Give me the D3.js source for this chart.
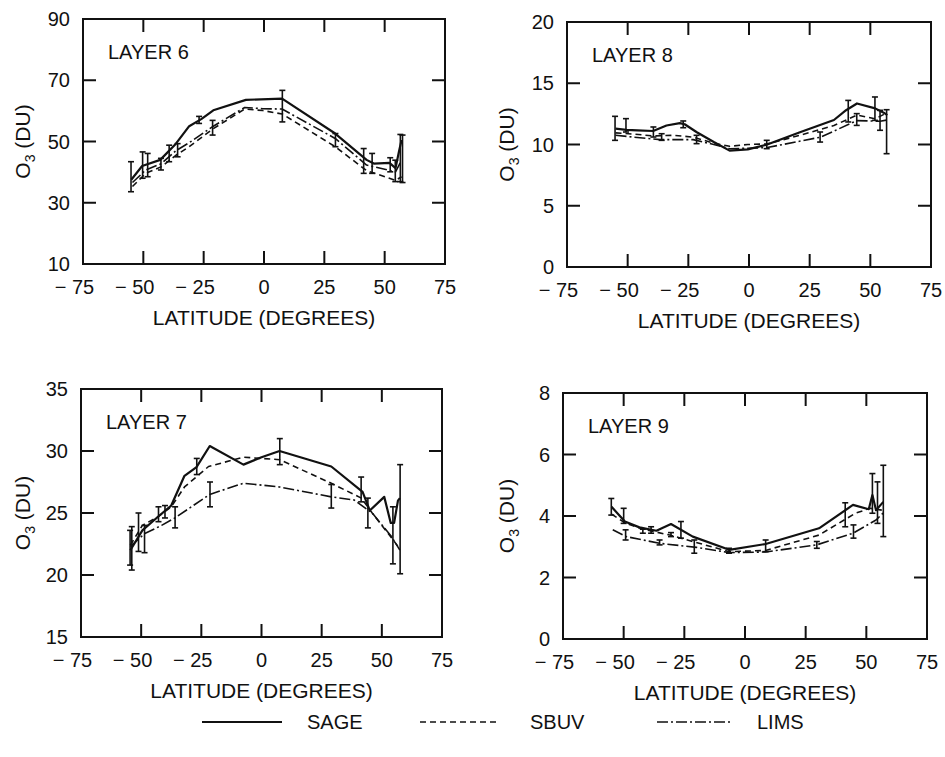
<!DOCTYPE html>
<html><head><meta charset="utf-8">
<script src="https://cdn.jsdelivr.net/npm/d3@7"></script>
<style>body{margin:0;background:#fff}svg{display:block}</style>
</head><body>
<svg id="c" width="945" height="757"></svg>
<script>
// ---------- data ----------
const latTicks = [-75, -50, -25, 0, 25, 50, 75];
const latTickLabels = ["\u2212 75", "\u2212 50", "\u2212 25", "0", "25", "50", "75"];
const seriesNames = ["SAGE", "SBUV", "LIMS"];
const layerNames = ["LAYER 6", "LAYER 8", "LAYER 7", "LAYER 9"];
const yTicks6 = [10, 30, 50, 70, 90];
const yTicks8 = [0, 5, 10, 15, 20];
const yTicks7 = [15, 20, 25, 30, 35];
const yTicks9 = [0, 2, 4, 6, 8];

// Layer 6  [latitude, O3 DU]
const sage6 = [[-55,37.5],[-50.5,42],[-43,44],[-36.5,49.3],[-31,55],[-26,57.3],[-21,60.2],[-7.5,63.6],[7.5,64],[29.5,52.6],[42.5,44],[45.5,42.8],[52,43],[54.5,41.3],[56,47],[57,50.5]];
const sbuv6 = [[-54.5,35.3],[-49,39.6],[-42.5,41.8],[-36.5,45.5],[-31,48.3],[-21,54.2],[-8,60.6],[-0.5,60.1],[7.5,59],[29.5,48.3],[42.5,40.5],[54.5,37.3],[57,38.5]];
const lims6 = [[-54.5,36.6],[-49,40.7],[-42.5,42.8],[-36.5,47],[-31,49.6],[-21,55],[-8,61.1],[-0.5,60.7],[7.5,60.6],[29.5,51],[42.5,42.3],[54.5,40.1],[57,43.9]];
// error bars [latitude, low, high]
const err6 = [[-55.1,33.6,43.4],[-50.3,38,46.6],[-48.2,38.5,46.1],[-42.7,40.7,44.5],[-39.3,43.4,48.8],[-35.8,45,49.3],[-26.9,55.9,58.2],[-21.3,52.1,56.9],[7.6,56.4,66.7],[29.6,48.3,52.6],[41.3,39.6,47.7],[44.8,39.6,46.1],[52.3,40.1,44.7],[54.4,36.9,43.9],[56.5,36.9,52.3],[57.4,36.6,52.1]];

// Layer 8
const sage8 = [[-55,11.3],[-50.5,11.2],[-46,11.15],[-39.5,11.1],[-34,11.55],[-28.5,11.75],[-26.5,11.65],[-21.5,11.0],[-14.5,10.2],[-8,9.5],[-0.5,9.6],[7.5,10.0],[21,11.0],[35,12.0],[40,12.8],[44.5,13.35],[52,12.95],[55.5,12.6],[57,12.4]];
const sbuv8 = [[-55,10.95],[-47.5,10.85],[-39.5,10.7],[-31,10.75],[-23,10.6],[-14.5,10.1],[-8,9.85],[-0.5,10.0],[7.5,10.05],[21,10.75],[35,11.55],[44.5,12.4],[52,12.1],[57,12.6]];
const lims8 = [[-55,10.75],[-47.5,10.6],[-36.5,10.4],[-23,10.4],[-14.5,10.0],[-8,9.65],[-0.5,9.7],[7.5,9.75],[29.5,10.6],[44.5,11.95],[54,11.9],[57,12.0]];
const err8 = [[-55.2,10.34,12.3],[-50.7,11.02,12.11],[-39.4,10.61,11.43],[-36,10.34,10.88],[-27.1,11.37,11.92],[-21.6,10.07,10.75],[7.3,9.66,10.34],[29.3,10.2,11.02],[40.9,11.84,13.6],[44.4,11.56,12.52],[51.9,11.97,13.88],[54,11.16,12.79],[56.7,9.25,12.84]];

// Layer 7
const sage7 = [[-54.5,22.0],[-49.5,23.6],[-43,24.7],[-37.5,25.6],[-32,28.0],[-27,28.7],[-21.5,30.4],[-7.5,28.9],[0,29.5],[7.5,30.0],[29,28.75],[42,26.7],[45,25.2],[51,26.3],[53.7,24.2],[55.1,24.2],[56.7,26.0],[57.5,26.2]];
const sbuv7 = [[-54.5,22.4],[-49.5,24.0],[-43,24.7],[-37.5,25.5],[-32,27.1],[-22,28.75],[-7.5,29.5],[7.5,29.3],[29,27.4],[41.5,26.2],[46,25.0],[54,23.0],[57.5,22.1]];
const lims7 = [[-54.5,22.3],[-48.5,23.35],[-41.5,24.0],[-36,24.6],[-21.5,26.5],[-7.5,27.4],[7.5,27.1],[29,26.3],[38.5,26.05],[46,25.0],[54,23.1],[57.5,22.0]];
const err7 = [[-54.6,20.8,23.6],[-53.9,20.4,23.9],[-51.1,21.9,25.0],[-48.6,21.8,24.0],[-42.8,24.3,25.5],[-40.1,24.6,25.6],[-35.9,23.8,25.5],[-26.9,28.1,29.4],[-21.4,25.5,27.5],[7.6,28.9,31.0],[29,25.4,27.3],[41.4,25.9,27.9],[44.2,23.8,26.2],[54.6,20.9,25.5],[57.6,20.1,28.9]];

// Layer 9
const sage9 = [[-55,4.3],[-49.5,3.82],[-43.5,3.63],[-36.5,3.52],[-30.5,3.74],[-21.5,3.33],[-6.5,2.9],[8.5,3.09],[30.5,3.6],[44.5,4.36],[51,4.22],[52.5,4.68],[54,4.19],[57,4.46]];
const sbuv9 = [[-55,4.06],[-49.5,3.78],[-42,3.57],[-31,3.38],[-21.5,3.17],[-6.5,2.84],[8.5,2.88],[30.5,3.38],[45.5,4.09],[51.5,4.25],[56.5,4.19]];
const lims9 = [[-54.5,3.55],[-49,3.33],[-35,3.11],[-20,2.98],[-6.5,2.81],[8.5,2.83],[29.5,3.06],[44.5,3.44],[54,3.87],[57.5,4.14]];
const err9 = [[-55.1,4.03,4.57],[-50,3.76,4.25],[-49.2,3.22,3.55],[-42.1,3.44,3.57],[-38.7,3.44,3.65],[-35.2,3.06,3.22],[-30.5,3.33,3.46],[-26.4,3.28,3.82],[-20.9,2.79,3.22],[-6.6,2.79,2.95],[8.5,2.84,3.22],[29.6,2.95,3.17],[41.3,3.65,4.43],[44.7,3.28,3.71],[52.5,4.09,5.38],[54.6,3.76,5.11],[57,3.33,5.65]];

// ---------- layout ----------
const FONT = "'Liberation Sans', Arial, Helvetica, sans-serif";
const panels = [
  {name: layerNames[0], x0: 83,  x1: 445, y0: 19,  y1: 264, yDomain: [10, 90], yTicks: yTicks6, data: [sage6, sbuv6, lims6], err: err6, ylabX: 30},
  {name: layerNames[1], x0: 567, x1: 931, y0: 22,  y1: 267, yDomain: [0, 20],  yTicks: yTicks8, data: [sage8, sbuv8, lims8], err: err8, ylabX: 514},
  {name: layerNames[2], x0: 81,  x1: 442, y0: 389, y1: 637, yDomain: [15, 35], yTicks: yTicks7, data: [sage7, sbuv7, lims7], err: err7, ylabX: 30},
  {name: layerNames[3], x0: 563, x1: 927, y0: 393, y1: 639, yDomain: [0, 8],   yTicks: yTicks9, data: [sage9, sbuv9, lims9], err: err9, ylabX: 514}
];
const styles = [
  {width: 2.2, dash: null},
  {width: 1.6, dash: "6,4"},
  {width: 1.6, dash: "11,3,2,3"}
];

const svg = d3.select("#c");
svg.append("rect").attr("width", 945).attr("height", 757).attr("fill", "#fff");

function textWidth(str, size) {
  const t = svg.append("text").attr("font-family", FONT).attr("font-size", size).text(str);
  const w = t.node().getComputedTextLength();
  t.remove();
  return w;
}

const TICK = 13;
panels.forEach(p => {
  const x = d3.scaleLinear().domain([-75, 75]).range([p.x0, p.x1]);
  const y = d3.scaleLinear().domain(p.yDomain).range([p.y1, p.y0]);
  const g = svg.append("g");

  // series lines
  const line = d3.line().x(d => x(d[0])).y(d => y(d[1]));
  p.data.forEach((s, i) => {
    g.append("path").attr("d", line(s)).attr("fill", "none").attr("stroke", "#111")
      .attr("stroke-width", styles[i].width).attr("stroke-linejoin", "round")
      .attr("stroke-dasharray", styles[i].dash);
  });

  // error bars
  const eg = g.append("g").attr("stroke", "#111").attr("stroke-width", 1.6);
  p.err.forEach(e => {
    const cx = x(e[0]);
    eg.append("line").attr("x1", cx).attr("x2", cx).attr("y1", y(e[1])).attr("y2", y(e[2]));
    eg.append("line").attr("x1", cx - 3).attr("x2", cx + 3).attr("y1", y(e[1])).attr("y2", y(e[1]));
    eg.append("line").attr("x1", cx - 3).attr("x2", cx + 3).attr("y1", y(e[2])).attr("y2", y(e[2]));
  });

  // frame
  g.append("rect").attr("x", p.x0).attr("y", p.y0).attr("width", p.x1 - p.x0).attr("height", p.y1 - p.y0)
    .attr("fill", "none").attr("stroke", "#111").attr("stroke-width", 2);

  // inner ticks
  const tg = g.append("g").attr("stroke", "#111").attr("stroke-width", 2);
  latTicks.slice(1, -1).forEach(t => {
    tg.append("line").attr("x1", x(t)).attr("x2", x(t)).attr("y1", p.y1).attr("y2", p.y1 - TICK);
    tg.append("line").attr("x1", x(t)).attr("x2", x(t)).attr("y1", p.y0).attr("y2", p.y0 + TICK);
  });
  p.yTicks.slice(1, -1).forEach(t => {
    tg.append("line").attr("x1", p.x0).attr("x2", p.x0 + TICK).attr("y1", y(t)).attr("y2", y(t));
    tg.append("line").attr("x1", p.x1).attr("x2", p.x1 - TICK).attr("y1", y(t)).attr("y2", y(t));
  });

  // x tick labels (digits centered on tick)
  latTicks.forEach((t, i) => {
    const digits = String(Math.abs(t));
    const w = textWidth(digits, 20);
    g.append("text").attr("x", x(t) + w / 2).attr("y", p.y1 + 30)
      .attr("text-anchor", "end").attr("font-family", FONT).attr("font-size", 20).attr("fill", "#111")
      .text(latTickLabels[i]);
  });
  // y tick labels
  p.yTicks.forEach(t => {
    g.append("text").attr("x", p.x0 - 13).attr("y", y(t) + 7)
      .attr("text-anchor", "end").attr("font-family", FONT).attr("font-size", 20).attr("fill", "#111")
      .text(t);
  });

  // axis titles
  g.append("text").attr("x", (p.x0 + p.x1) / 2).attr("y", p.y1 + 61)
    .attr("text-anchor", "middle").attr("font-family", FONT).attr("font-size", 21).attr("fill", "#111")
    .text("LATITUDE (DEGREES)");
  const yl = g.append("text").attr("transform", `translate(${p.ylabX},${(p.y0 + p.y1) / 2}) rotate(-90)`)
    .attr("text-anchor", "middle").attr("font-family", FONT).attr("font-size", 21).attr("fill", "#111");
  yl.append("tspan").text("O");
  yl.append("tspan").attr("dy", 5).attr("font-size", 14).text("3");
  yl.append("tspan").attr("dy", -5).text(" (DU)");

  // panel label
  g.append("text").attr("x", p.x0 + 25).attr("y", p.y0 + 40)
    .attr("font-family", FONT).attr("font-size", 20).attr("fill", "#111").text(p.name);
});

// ---------- legend ----------
const legendItems = [
  {x1: 202, x2: 282, tx: 307},
  {x1: 420, x2: 497, tx: 530},
  {x1: 657, x2: 730, tx: 757}
];
const lg = svg.append("g");
legendItems.forEach((it, i) => {
  lg.append("line").attr("x1", it.x1).attr("x2", it.x2).attr("y1", 722).attr("y2", 722)
    .attr("stroke", "#111").attr("stroke-width", styles[i].width).attr("stroke-dasharray", styles[i].dash);
  lg.append("text").attr("x", it.tx).attr("y", 729).attr("font-family", FONT).attr("font-size", 20)
    .attr("fill", "#111").text(seriesNames[i]);
});
</script>
</body></html>
